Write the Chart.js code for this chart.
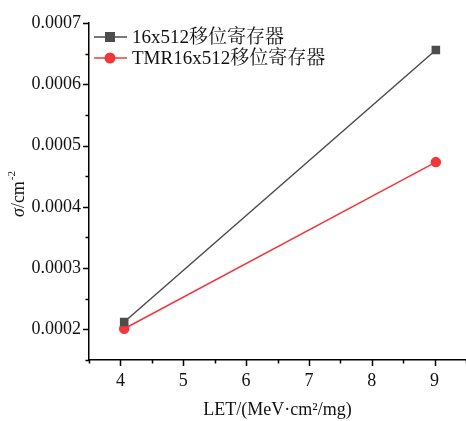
<!DOCTYPE html>
<html>
<head>
<meta charset="utf-8">
<script src="https://cdn.jsdelivr.net/npm/chart.js@4.4.1/dist/chart.umd.min.js"></script>
<style>
  html, body { margin: 0; padding: 0; background: #fff; }
  #wrap { width: 466px; height: 421px; }
</style>
</head>
<body>
<div id="wrap"><canvas id="myChart"></canvas></div>
<script>
// LET values and cross sections
var letValues = [4.06, 9.02];
var seriesPlain = [0.000212, 0.000656];
var seriesTmr = [0.000201, 0.000473];
var seriesNames = ['16x512移位寄存器', 'TMR16x512移位寄存器'];
var xTickLabels = [4, 5, 6, 7, 8, 9];
var yTickLabels = [0.0002, 0.0003, 0.0004, 0.0005, 0.0006, 0.0007];

var serif = "'Liberation Serif', 'Noto Serif CJK SC', 'Noto Sans CJK SC', serif";

function toPoints(xs, ys) {
    return xs.map(function (x, i) { return { x: x, y: ys[i] }; });
}

// outward major + minor tick marks, legend inside the plot, y title
var axisDecor = {
    id: 'axisDecor',
    afterDraw: function (chart) {
        var ctx = chart.ctx;
        var xs = chart.scales.x, ys = chart.scales.y;
        var area = chart.chartArea;
        ctx.save();
        ctx.strokeStyle = '#000';
        ctx.lineWidth = 1.5;
        ctx.beginPath();
        for (var v = 3.5; v <= 9.51; v += 0.5) {
            var px = Math.round(xs.getPixelForValue(v)) + 0.5;
            var major = Math.abs(v - Math.round(v)) < 1e-6;
            ctx.moveTo(px, area.bottom);
            ctx.lineTo(px, area.bottom + (major ? 6 : 3.5));
        }
        for (var k = 3; k <= 14; k++) {
            var val = k * 0.00005;
            var py = Math.round(ys.getPixelForValue(val)) + 0.5;
            var maj = k % 2 === 0;
            ctx.moveTo(area.left, py);
            ctx.lineTo(area.left - (maj ? 6 : 3.5), py);
        }
        ctx.stroke();

        // legend
        var rows = [
            { y: 37, color: '#4d4d4d', shape: 'rect', text: seriesNames[0] },
            { y: 58, color: '#f0383c', shape: 'circle', text: seriesNames[1] }
        ];
        rows.forEach(function (r) {
            ctx.strokeStyle = r.color;
            ctx.lineWidth = 1.5;
            ctx.beginPath();
            ctx.moveTo(94, r.y);
            ctx.lineTo(127, r.y);
            ctx.stroke();
            ctx.fillStyle = r.color;
            if (r.shape === 'rect') {
                ctx.fillRect(105, r.y - 5, 10, 10);
            } else {
                ctx.beginPath();
                ctx.arc(110, r.y, 5.5, 0, Math.PI * 2);
                ctx.fill();
            }
            ctx.fillStyle = '#111';
            ctx.font = '19px ' + serif;
            ctx.textBaseline = 'middle';
            ctx.textAlign = 'left';
            ctx.fillText(r.text, 132, r.y + 1);
        });

        // y title: italic sigma, /cm, superscript -2
        ctx.save();
        ctx.translate(24, 192);
        ctx.rotate(-Math.PI / 2);
        ctx.fillStyle = '#111';
        ctx.textBaseline = 'alphabetic';
        ctx.textAlign = 'left';
        var x0 = -25;
        ctx.font = 'italic 18px ' + serif;
        ctx.fillText('σ', x0, 0);
        x0 += ctx.measureText('σ').width;
        ctx.font = '18px ' + serif;
        ctx.fillText('/cm', x0, 0);
        x0 += ctx.measureText('/cm').width;
        ctx.font = '11px ' + serif;
        ctx.fillText('-2', x0 + 1, -9);
        ctx.restore();
        ctx.restore();
    }
};

var ctx = document.getElementById('myChart').getContext('2d');
var myChart = new Chart(ctx, {
    type: 'line',
    data: {
        datasets: [{
            label: seriesNames[0],
            data: toPoints(letValues, seriesPlain),
            borderColor: '#4d4d4d',
            backgroundColor: '#4d4d4d',
            borderWidth: 1.5,
            pointStyle: 'rect',
            pointRadius: 5,
            pointHoverRadius: 5,
            clip: false
        }, {
            label: seriesNames[1],
            data: toPoints(letValues, seriesTmr),
            borderColor: '#f0383c',
            backgroundColor: '#f0383c',
            borderWidth: 1.5,
            pointStyle: 'circle',
            pointRadius: 4.5,
            pointHoverRadius: 4.5,
            clip: false
        }]
    },
    plugins: [axisDecor],
    options: {
        responsive: true,
        maintainAspectRatio: false,
        animation: false,
        layout: { autoPadding: false, padding: { top: 23, right: 0, bottom: 0, left: 0 } },
        plugins: {
            legend: { display: false },
            tooltip: { enabled: false }
        },
        scales: {
            x: {
                type: 'linear',
                min: 3.5,
                max: 9.5,
                afterBuildTicks: function (scale) {
                    scale.ticks = xTickLabels.map(function (v) { return { value: v }; });
                },
                afterFit: function (scale) {
                    scale.height = 61;
                    scale.paddingLeft = 0;
                    scale.paddingRight = 0;
                },
                grid: { display: false, drawTicks: false },
                border: { display: true, color: '#000', width: 1.5 },
                ticks: {
                    color: '#111',
                    padding: 10,
                    font: { family: serif, size: 18 }
                },
                title: {
                    display: true,
                    text: 'LET/(MeV·cm²/mg)',
                    color: '#111',
                    font: { family: serif, size: 18 },
                    padding: { top: 6, bottom: 0 }
                }
            },
            y: {
                min: 0.00015,
                max: 0.0007,
                afterBuildTicks: function (scale) {
                    scale.ticks = yTickLabels.map(function (v) { return { value: v }; });
                },
                afterFit: function (scale) {
                    scale.width = 89;
                    scale.paddingTop = 0;
                    scale.paddingBottom = 0;
                },
                grid: { display: false, drawTicks: false },
                border: { display: true, color: '#000', width: 1.5 },
                ticks: {
                    color: '#111',
                    padding: 8,
                    font: { family: serif, size: 18 },
                    callback: function (v) { return Number(v).toFixed(4); }
                }
            }
        }
    }
});
</script>
</body>
</html>
